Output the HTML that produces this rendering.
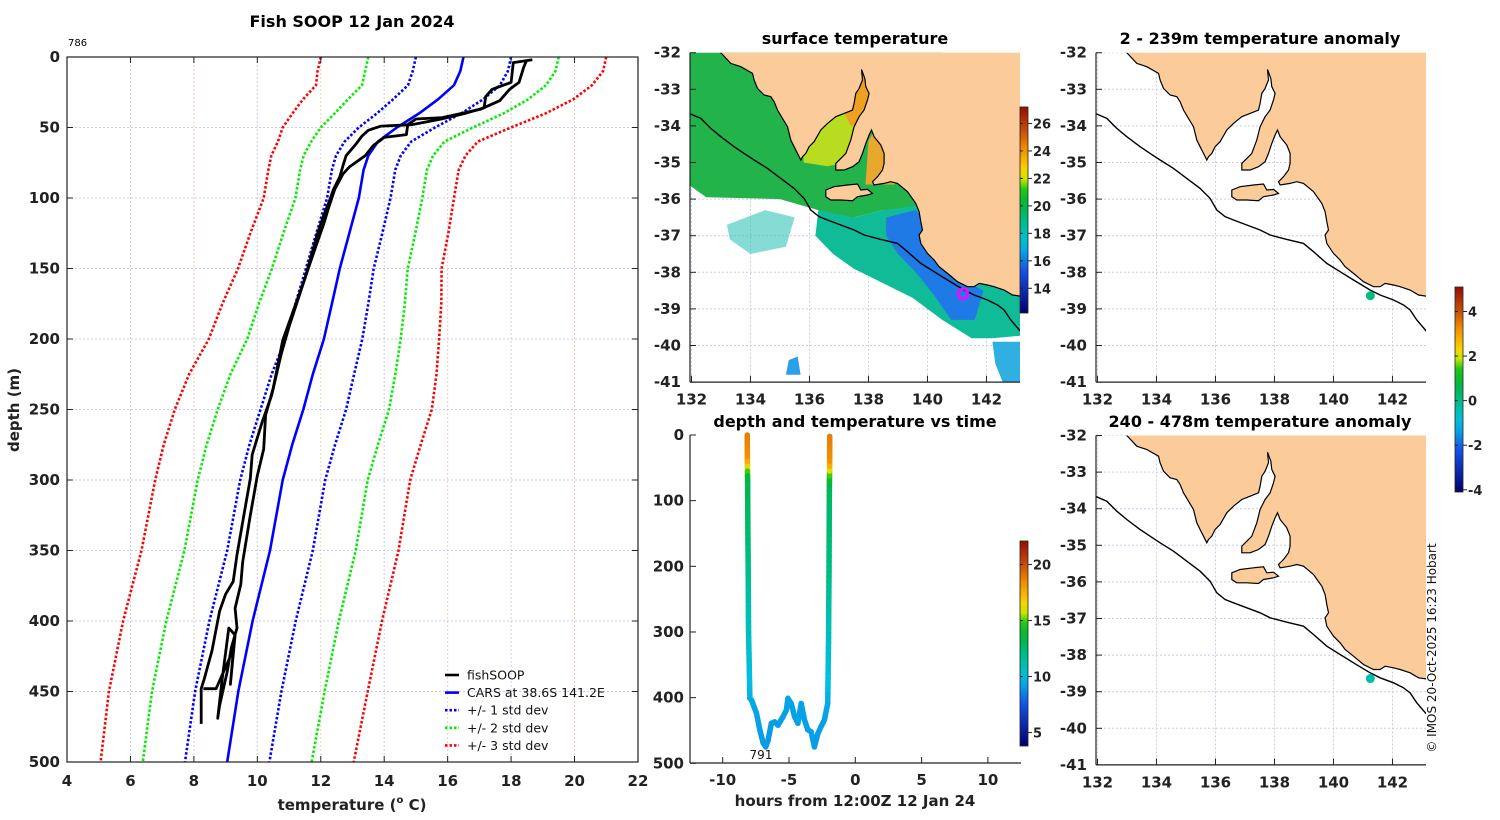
<!DOCTYPE html>
<html><head><meta charset="utf-8">
<style>
html,body{margin:0;padding:0;background:#fff;}
svg{display:block;font-family:"DejaVu Sans","Liberation Sans",sans-serif;}
.tk{font-weight:bold;font-size:15px;fill:#222;}
.ttl{font-weight:bold;font-size:16px;fill:#000;}
</style></head>
<body>
<svg id="fig" width="1500" height="820" viewBox="0 0 1500 820" xmlns="http://www.w3.org/2000/svg">
<defs>
<clipPath id="clipMain"><rect x="67" y="57" width="571" height="705"/></clipPath>
<clipPath id="clipM1"><rect x="690" y="52.7" width="330" height="329.4"/></clipPath>
<clipPath id="clipM2"><rect x="1096" y="52.7" width="330" height="329.4"/></clipPath>
<clipPath id="clipM3"><rect x="1096" y="435.5" width="330" height="329.4"/></clipPath>
<clipPath id="clipT"><rect x="690" y="430" width="331" height="340"/></clipPath>
</defs>
<text class="ttl" x="352" y="27" text-anchor="middle">Fish SOOP 12 Jan 2024</text>
<text x="68" y="46" font-size="10">786</text>
<text class="tk" x="352" y="810" text-anchor="middle" font-size="16">temperature (<tspan font-size="10" dy="-7">o</tspan><tspan dy="7"> C)</tspan></text>
<text class="tk" x="0" y="0" text-anchor="middle" font-size="16" transform="translate(19,410) rotate(-90)">depth (m)</text>
<text class="ttl" x="855" y="44" text-anchor="middle">surface temperature</text>
<text class="ttl" x="1260" y="44" text-anchor="middle">2 - 239m temperature anomaly</text>
<text class="ttl" x="1260" y="427" text-anchor="middle">240 - 478m temperature anomaly</text>
<text class="ttl" x="855" y="427" text-anchor="middle">depth and temperature vs time</text>
<text class="tk" x="855" y="806" text-anchor="middle" font-size="16">hours from 12:00Z 12 Jan 24</text>
<text x="0" y="0" font-size="12" fill="#111" text-anchor="middle" transform="translate(1436,648) rotate(-90)">© IMOS 20-Oct-2025 16:23 Hobart</text>
<g id="gMain"></g><g id="gMaps"></g><g id="gTime"></g>
</svg>
<script>
// ---------- profile data ----------
const depths = [0,10,20,30,40,50,60,70,80,100,125,150,175,200,225,250,275,300,350,400,450,500];
const carsMean = [16.5,16.4,16.2,15.7,15.1,14.4,13.8,13.5,13.35,13.2,12.9,12.6,12.35,12.1,11.75,11.45,11.1,10.8,10.4,9.85,9.4,9.05];
const carsStd = [1.5,1.5,1.45,1.42,1.33,1.2,1.05,1.02,1.0,1.0,1.04,1.07,1.15,1.21,1.3,1.35,1.35,1.34,1.35,1.36,1.36,1.33];
const fishDownDepth = [2,4,18,23,28,36,40,44,48,49,52,56,62,70,77,85,94,103,113,125,141,157,192,211,240,259,282,299,322,353,372,381,393,407,421,441,448,473];
const fishDownTemp = [18.67,18.07,18.0,17.4,17.2,17.15,16.55,15.8,14.86,13.9,13.5,13.3,13.1,12.8,12.7,12.6,12.4,12.26,12.08,11.9,11.7,11.5,10.99,10.75,10.45,10.15,9.84,9.78,9.6,9.36,9.24,9.0,8.81,8.69,8.57,8.33,8.23,8.23];
const fishUpDepth = [2,7,18,23,31,37,43,44,48,55,57,63,70,78,83,94,106,118,134,157,201,235,254,278,297,325,358,374,391,405,419,436,460,469,440,405,410,445,420,448,448];
const fishUpTemp = [18.5,18.4,18.25,17.95,17.64,17.04,15.83,15.0,14.74,14.7,14.0,13.65,13.4,12.9,12.7,12.44,12.26,12.1,11.85,11.5,10.8,10.5,10.26,10.2,10.0,9.78,9.54,9.48,9.3,9.36,9.18,9.05,8.81,8.75,8.9,9.1,9.3,9.15,9.25,8.7,8.3];
const xTicks = [4,6,8,10,12,14,16,18,20,22];
const yTicks = [0,50,100,150,200,250,300,350,400,450,500];
// ---------- time data ----------
const timeHours = [-8.15,-8.14,-8.13,-8.12,-8.1,-8.08,-8.05,-8.0,-7.95,-7.82,-7.45,-7.2,-6.95,-6.75,-6.58,-6.33,-6.08,-5.83,-5.45,-5.2,-5.08,-4.83,-4.58,-4.33,-4.08,-3.83,-3.58,-3.33,-3.08,-2.83,-2.58,-2.33,-2.08,-2.02,-1.98,-1.96,-1.95,-1.94,-1.93,-1.93];
const timeDepth = [0,40,55,70,150,200,300,350,401,404,424,449,469,475,465,439,437,442,429,419,401,409,429,439,409,434,449,452,475,455,444,434,409,317,200,100,70,55,40,2];
const timeTemp = [18.8,18.3,15.5,13.2,12.5,12.0,10.8,10.2,9.6,9.4,9.3,9.2,9.1,9.1,9.1,9.1,9.15,9.15,9.2,9.2,9.3,9.3,9.2,9.2,9.3,9.2,9.2,9.2,9.1,9.1,9.2,9.2,9.4,10.6,12.1,12.6,13.3,15.5,18.2,18.8];
const timeXTicks = [-10,-5,0,5,10];
const timeYTicks = [0,100,200,300,400,500];
// ---------- map data ----------
const lonTicks = [132,134,136,138,140,142];
const latTicks = [-32,-33,-34,-35,-36,-37,-38,-39,-40,-41];
const sstTicks = [14,16,18,20,22,24,26];
const anomTicks = [-4,-2,0,2,4];
const timeCbTicks = [5,10,15,20];
const shipLon = 141.25, shipLat = -38.64;
const anomShallow = 0.1, anomDeep = -0.3;

const NS = "http://www.w3.org/2000/svg";
function mk(parent, tag, attrs, name, text){
  const el = document.createElementNS(NS, tag);
  for (const k in attrs) el.setAttribute(k, attrs[k]);
  
  
  if (text !== undefined) el.textContent = text;
  parent.appendChild(el);
  return el;
}
const stops = [[0,[0,0,110]],[0.2,[20,80,230]],[0.33,[0,190,230]],[0.43,[0,190,150]],[0.53,[0,180,60]],[0.6,[30,200,20]],[0.65,[200,230,0]],[0.7,[250,210,0]],[0.8,[240,140,0]],[0.88,[200,80,10]],[1,[150,15,0]]];
function cmap(f){
  f=Math.max(0,Math.min(1,f));
  for(let i=1;i<stops.length;i++){ if(f<=stops[i][0]){const a=stops[i-1],b=stops[i];const t=(f-a[0])/(b[0]-a[0]);
    return 'rgb('+a[1].map((c,j)=>Math.round(c+(b[1][j]-c)*t)).join(',')+')';}}
  return 'rgb(150,15,0)';
}
function gradient(id){
  const defs=document.querySelector('defs');
  const g=mk(defs,'linearGradient',{id:id,x1:0,y1:1,x2:0,y2:0},'colormap-gradient');
  for(let i=0;i<=20;i++){mk(g,'stop',{offset:(i/20),'stop-color':cmap(i/20)},'gradient-stop');}
}
gradient('jet');

// ================= MAIN PROFILE =================
(function(){
  const g=document.getElementById('gMain');
  const xT=T=>67+(T-4)*31.72, yD=d=>57+d*1.41;
  xTicks.forEach((t,i)=>{ if(i>0&&i<xTicks.length-1) mk(g,'line',{x1:xT(t),x2:xT(t),y1:57,y2:762,stroke:i%2?'#c8cdea':'#efcfc0','stroke-dasharray':'2,2','stroke-width':1},'x-grid-line');});
  yTicks.forEach((t,i)=>{ if(i>0&&i<yTicks.length-1) mk(g,'line',{x1:67,x2:638,y1:yD(t),y2:yD(t),stroke:'#c8cdea','stroke-dasharray':'2,2','stroke-width':1},'y-grid-line');});
  const c=mk(g,'g',{'clip-path':'url(#clipMain)'},'plot-area');
  const line=(ts,ds,col,w,dash,name)=>mk(c,'polyline',{points:ts.map((t,i)=>xT(t).toFixed(1)+','+yD(ds[i]).toFixed(1)).join(' '),fill:'none',stroke:col,'stroke-width':w,'stroke-dasharray':dash||'none','stroke-linejoin':'round'},name);
  [[3,'#ff0000'],[2,'#00ee00'],[1,'#0000ff']].forEach(([k,col])=>{
    line(carsMean.map((m,i)=>m-k*carsStd[i]),depths,col,2.6,'2.5,2','std-'+k+'-lower');
    line(carsMean.map((m,i)=>m+k*carsStd[i]),depths,col,2.6,'2.5,2','std-'+k+'-upper');
  });
  line(carsMean,depths,'#0000ff',2.6,null,'cars-mean-line');
  line(fishDownTemp,fishDownDepth,'#000',2.8,null,'fishsoop-downcast');
  line(fishUpTemp,fishUpDepth,'#000',2.8,null,'fishsoop-upcast');
  mk(g,'rect',{x:67,y:57,width:571,height:705,fill:'none',stroke:'#222','stroke-width':1.2},'plot-frame');
  xTicks.forEach(t=>{const x=xT(t);
    mk(g,'line',{x1:x,x2:x,y1:762,y2:756,stroke:'#222'},'x-tick');
    mk(g,'line',{x1:x,x2:x,y1:57,y2:63,stroke:'#222'},'x-tick-top');
    mk(g,'text',{x:x,y:786,'text-anchor':'middle',class:'tk'},'x-tick-label',String(t));});
  yTicks.forEach(t=>{const y=yD(t);
    mk(g,'line',{x1:67,x2:73,y1:y,y2:y,stroke:'#222'},'y-tick');
    mk(g,'line',{x1:632,x2:638,y1:y,y2:y,stroke:'#222'},'y-tick-right');
    mk(g,'text',{x:60,y:y+5,'text-anchor':'end',class:'tk'},'y-tick-label',String(t));});
  const leg=[['fishSOOP','#000',null],['CARS at 38.6S 141.2E','#0000ff',null],['+/- 1 std dev','#0000ff','2.5,2'],['+/- 2 std dev','#00ee00','2.5,2'],['+/- 3 std dev','#ff0000','2.5,2']];
  leg.forEach((L,i)=>{const y=675+i*17.6;
    mk(g,'line',{x1:445,x2:459,y1:y,y2:y,stroke:L[1],'stroke-width':2.6,'stroke-dasharray':L[2]||'none'},'legend-swatch');
    mk(g,'text',{x:467,y:y+4.5,'font-size':12.5,fill:'#111'},'legend-entry',L[0]);});
})();

// ================= MAPS =================
const coastRef = [[200,68],[230,100],[260,110],[295,130],[300,150],[310,175],[330,195],[350,200],[360,215],[370,240],[385,265],[400,290],[410,330],[420,350],[430,370],[440,390],[445,380],[455,370],[465,350],[480,335],[500,300],[520,280],[545,260],[570,250],[595,240],[600,220],[605,190],[615,175],[625,150],[622,118],[632,145],[635,170],[645,190],[640,210],[630,240],[615,260],[600,290],[590,330],[575,370],[560,385],[545,400],[545,420],[570,420],[595,410],[615,395],[625,370],[635,340],[645,315],[652,300],[660,320],[680,345],[690,370],[690,400],[685,420],[670,440],[655,455],[660,465],[690,460],[710,455],[730,460],[760,485],[785,520],[795,545],[800,575],[805,600],[795,615],[800,640],[820,670],[840,690],[855,710],[880,730],[910,755],[940,770],[960,770],[975,760],[1000,765],[1020,770],[1050,780],[1075,795],[1110,800],[1110,60],[200,60]];
const kiRef = [[515,480],[540,470],[580,465],[610,462],[620,480],[640,478],[655,490],[640,495],[610,500],[595,512],[560,510],[530,510],[515,500]];
const shelfRef = [[100,248],[140,265],[170,295],[200,320],[240,350],[270,370],[300,390],[340,415],[380,445],[420,475],[450,505],[470,540],[495,560],[520,570],[560,585],[600,600],[630,615],[680,628],[730,640],[760,665],[800,700],[840,725],[880,750],[930,780],[960,795],[1000,810],[1030,825],[1050,840],[1070,870],[1100,905]];
const toLL = p=>[132+(p[0]-112)/88.5, -32-(p[1]-68)/109.8];
const coast = coastRef.map(toLL), kangaroo = kiRef.map(toLL), shelf = shelfRef.map(toLL);
const sstPatches = [
 {name:'sst-shelf-warm',col:'#22b44a',pts:[[131.9,-31.9],[140.5,-31.9],[140.5,-35.9],[139.5,-36.3],[138.5,-36.3],[137.5,-36.5],[136.9,-36.6],[136.3,-36.3],[135.0,-36.0],[132.5,-35.95],[131.9,-35.6]]},
 {name:'sst-offshore-band',col:'#10bb98',pts:[[136.3,-36.3],[137.5,-36.5],[138.5,-36.3],[139.5,-36.2],[140.5,-35.9],[143.6,-37.0],[143.6,-39.7],[142.2,-39.8],[141.5,-39.8],[140.5,-39.3],[139.5,-38.7],[138.5,-38.3],[137.5,-37.9],[136.8,-37.5],[136.2,-37.0]]},
 {name:'sst-scatter',col:'#20c0b0',pts:[[133.2,-36.7],[134.5,-36.3],[135.5,-36.5],[135.2,-37.3],[134,-37.5],[133.3,-37.1]],op:0.55},
 {name:'sst-upwelling',col:'#1f7ae6',pts:[[138.6,-36.5],[139.6,-36.3],[140.5,-37.2],[141.2,-38.2],[141.9,-38.5],[141.6,-39.3],[140.8,-39.3],[140.2,-38.6],[139.6,-38.0],[139.0,-37.5],[138.6,-37.0]]},
 {name:'sst-spencer-gulf',col:'#b8dc20',pts:[[135.8,-33.6],[137.0,-33.2],[137.7,-32.5],[138.1,-32.5],[137.9,-34.3],[137.3,-35.0],[136.6,-35.1],[135.8,-35.0]]},
 {name:'sst-spencer-head',col:'#eea020',pts:[[137.1,-33.5],[137.7,-32.5],[138.1,-32.5],[137.9,-33.9],[137.4,-34.0]]},
 {name:'sst-vincent-gulf',col:'#e8a830',pts:[[137.9,-35.6],[138.0,-34.4],[138.3,-34.0],[138.9,-34.5],[138.9,-35.6]]},
 {name:'sst-southeast-patch',col:'#30b0e0',pts:[[142.2,-39.9],[143.2,-39.9],[143.2,-41.1],[142.6,-41.1],[142.3,-40.5]]},
 {name:'sst-south-patch',col:'#2aa0e8',pts:[[135.3,-40.4],[135.6,-40.3],[135.7,-40.8],[135.2,-40.8]]}
];
function drawMap(x0,y0,clip,prefix,mode){
  const g=mk(document.getElementById('gMaps'),'g',{},prefix+'-map');
  const X=lon=>x0+(lon-131.95)*29.5, Y=lat=>y0+(-32-lat)*36.6;
  const P=pts=>pts.map(p=>X(p[0]).toFixed(1)+','+Y(p[1]).toFixed(1)).join(' ');
  const c=mk(g,'g',{'clip-path':'url(#'+clip+')'},prefix+'-map-area');
  lonTicks.forEach(l=>mk(c,'line',{x1:X(l),x2:X(l),y1:y0,y2:y0+330,stroke:'#c8cdea','stroke-dasharray':'2,2'},'lon-grid-line'));
  latTicks.forEach(l=>mk(c,'line',{x1:x0,x2:x0+330,y1:Y(l),y2:Y(l),stroke:'#c8cdea','stroke-dasharray':'2,2'},'lat-grid-line'));
  if(mode==='sst') sstPatches.forEach(s=>mk(c,'polygon',{points:P(s.pts),fill:s.col,'fill-opacity':s.op||1},s.name));
  mk(c,'polygon',{points:P(coast),fill:'#fbcc9a',stroke:'#000','stroke-width':1.2},'land');
  mk(c,'polygon',{points:P(kangaroo),fill:'#fbcc9a',stroke:'#000','stroke-width':1.2},'kangaroo-island');
  mk(c,'polyline',{points:P(shelf),fill:'none',stroke:'#000','stroke-width':1.4},'shelf-isobath');
  if(mode==='sst') mk(c,'circle',{cx:X(shipLon-0.05),cy:Y(shipLat+0.05),r:5,fill:'none',stroke:'#ff00ff','stroke-width':2.5},'ship-position-marker');
  else mk(c,'circle',{cx:X(shipLon),cy:Y(shipLat),r:4.5,fill:cmap((mode+4.1)/9.2)},'anomaly-point');
  mk(g,'line',{x1:x0,x2:x0,y1:y0,y2:y0+329.4,stroke:'#222','stroke-width':1.2},'lat-axis');
  mk(g,'line',{x1:x0,x2:x0+330,y1:y0+329.4,y2:y0+329.4,stroke:'#222','stroke-width':1.2},'lon-axis');
  lonTicks.forEach(l=>{mk(g,'line',{x1:X(l),x2:X(l),y1:y0+329.4,y2:y0+323,stroke:'#222'},'lon-tick');
    mk(g,'text',{x:X(l),y:y0+352,'text-anchor':'middle',class:'tk'},'lon-tick-label',String(l));});
  latTicks.forEach(l=>{mk(g,'line',{x1:x0,x2:x0+6,y1:Y(l),y2:Y(l),stroke:'#222'},'lat-tick');
    mk(g,'text',{x:x0-9,y:Y(l)+5,'text-anchor':'end',class:'tk'},'lat-tick-label',String(l));});
}
drawMap(690,52.7,'clipM1','sst','sst');
drawMap(1096,52.7,'clipM2','anomaly-shallow',anomShallow);
drawMap(1096,435.5,'clipM3','anomaly-deep',anomDeep);

function colorbar(x,yTop,yBot,vTop,vBot,ticks,name){
  const g=mk(document.getElementById('gMaps'),'g',{},name);
  mk(g,'rect',{x:x,y:yTop,width:8,height:yBot-yTop,fill:'url(#jet)',stroke:'#222','stroke-width':0.8},name+'-bar');
  ticks.forEach(t=>{const y=yBot-(t-vBot)/(vTop-vBot)*(yBot-yTop);
    mk(g,'line',{x1:x+8,x2:x+12,y1:y,y2:y,stroke:'#222'},name+'-tick');
    mk(g,'line',{x1:x,x2:x+3,y1:y,y2:y,stroke:'#222'},name+'-tick-inner');
    mk(g,'text',{x:x+13,y:y+5,'font-size':13,'font-weight':'bold',fill:'#222'},name+'-tick-label',String(t));});
}
colorbar(1020,107,313,27.2,12.2,sstTicks,'sst-colorbar');
colorbar(1455,287,492,5.1,-4.1,anomTicks,'anomaly-colorbar');
colorbar(1020,541,746,22.1,3.8,timeCbTicks,'time-colorbar');

// ================= TIME PLOT =================
(function(){
  const g=document.getElementById('gTime');
  const X=h=>855.3+h*13.26, Y=d=>435+d*0.6566;
  const c=mk(g,'g',{'clip-path':'url(#clipT)'},'time-plot-area');
  for(let i=1;i<timeHours.length;i++){
    const n=Math.max(1,Math.round(Math.abs(timeDepth[i]-timeDepth[i-1])/8));
    for(let k=0;k<n;k++){
      const a=k/n,b=(k+1)/n;
      const h1=timeHours[i-1]+(timeHours[i]-timeHours[i-1])*a,h2=timeHours[i-1]+(timeHours[i]-timeHours[i-1])*b;
      const d1=timeDepth[i-1]+(timeDepth[i]-timeDepth[i-1])*a,d2=timeDepth[i-1]+(timeDepth[i]-timeDepth[i-1])*b;
      const T=timeTemp[i-1]+(timeTemp[i]-timeTemp[i-1])*(a+b)/2;
      mk(c,'line',{x1:X(h1),y1:Y(d1),x2:X(h2),y2:Y(d2),stroke:cmap((T-3.8)/18.3),'stroke-width':5.5,'stroke-linecap':'round'},'time-track-segment');
    }
  }
  mk(g,'text',{x:761,y:759,'font-size':12,'text-anchor':'middle',fill:'#111'},'time-profile-id','791');
  mk(g,'line',{x1:690,x2:690,y1:435,y2:763,stroke:'#222','stroke-width':1.2},'time-y-axis');
  mk(g,'line',{x1:690,x2:1021,y1:763,y2:763,stroke:'#222','stroke-width':1.2},'time-x-axis');
  timeXTicks.forEach(t=>{mk(g,'line',{x1:X(t),x2:X(t),y1:763,y2:757,stroke:'#222'},'time-x-tick');
    mk(g,'text',{x:X(t),y:785,'text-anchor':'middle',class:'tk'},'time-x-tick-label',String(t));});
  timeYTicks.forEach(t=>{mk(g,'line',{x1:690,x2:696,y1:Y(t),y2:Y(t),stroke:'#222'},'time-y-tick');
    mk(g,'text',{x:684,y:Y(t)+5,'text-anchor':'end',class:'tk'},'time-y-tick-label',String(t));});
})();
</script>
</body></html>
